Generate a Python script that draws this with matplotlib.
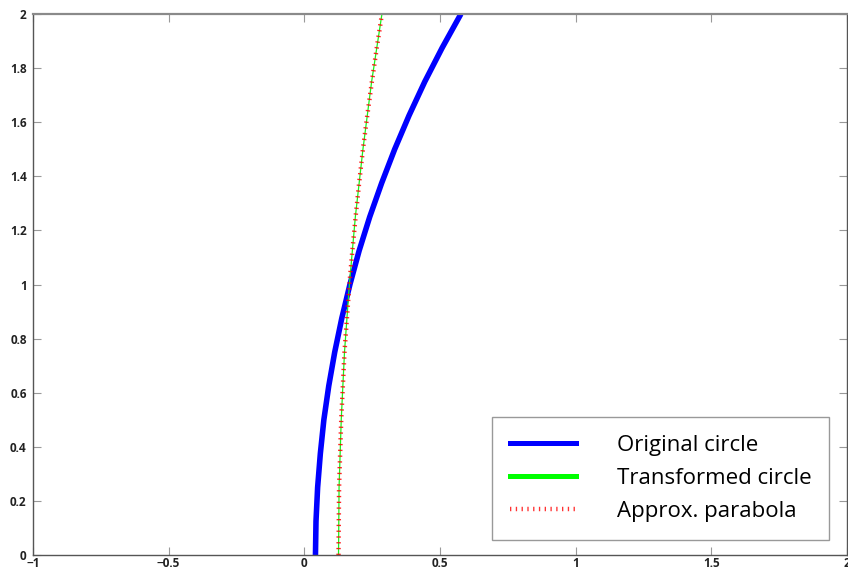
import matplotlib
matplotlib.use("Agg")
import matplotlib.pyplot as plt
from matplotlib.lines import Line2D

plt.rcParams['font.family'] = ['Open Sans', 'DejaVu Sans']

# Sample heights shared by all three curves
y_vals = [0.0, 0.125, 0.25, 0.375, 0.5, 0.625, 0.75, 0.875, 1.0,
          1.125, 1.25, 1.375, 1.5, 1.625, 1.75, 1.875, 2.0]

# Original circle
x_original = [0.041, 0.043, 0.049, 0.059, 0.072, 0.090, 0.112, 0.138, 0.168,
              0.202, 0.241, 0.285, 0.333, 0.386, 0.444, 0.508, 0.577]

# Transformed circle
x_transformed = [0.126, 0.127, 0.128, 0.132, 0.136, 0.142, 0.148, 0.157, 0.166,
                 0.177, 0.188, 0.202, 0.216, 0.232, 0.248, 0.267, 0.286]

# Approximating parabola
x_parabola = [0.126, 0.127, 0.128, 0.132, 0.136, 0.142, 0.148, 0.157, 0.166,
              0.177, 0.189, 0.202, 0.216, 0.232, 0.249, 0.267, 0.286]

labels = ["Original circle", "Transformed circle", "Approx. parabola"]
x_ticks = [-1, -0.5, 0, 0.5, 1, 1.5, 2]
x_ticklabels = ["\u22121", "\u22120.5", "0", "0.5", "1", "1.5", "2"]
y_ticks = [0, 0.2, 0.4, 0.6, 0.8, 1.0, 1.2, 1.4, 1.6, 1.8, 2.0]
y_ticklabels = ["0", "0.2", "0.4", "0.6", "0.8", "1", "1.2", "1.4", "1.6", "1.8", "2"]

fig = plt.figure(figsize=(8.48, 5.71), dpi=100)
ax = fig.add_axes([33 / 848, 1 - 555 / 571, (847 - 33) / 848, (555 - 14) / 571])

ax.plot(x_original, y_vals, color=(0, 0, 1), lw=4.0, solid_capstyle='butt')
ax.plot(x_transformed, y_vals, color=(0.1, 0.95, 0.1), lw=0.9)
red, = ax.plot(x_parabola, y_vals, color=(1, 0, 0), lw=3.2, alpha=0.85)
red.set_dashes((0.3, 1.0))

ax.set_xlim(-1, 2)
ax.set_ylim(0, 2)
ax.set_xticks(x_ticks)
ax.set_xticklabels(x_ticklabels)
ax.set_yticks(y_ticks)
ax.set_yticklabels(y_ticklabels)

for s in ax.spines.values():
    s.set_color('#555555')
    s.set_linewidth(1.0)
ax.spines['top'].set_color('#8a8a8a')
ax.spines['top'].set_linewidth(1.6)

ax.tick_params(axis='both', direction='in', length=5.5, width=0.8, color='#999999',
               top=True, right=True, labelsize=8.5, labelcolor='#222222')
ax.tick_params(axis='x', pad=1.5)
ax.tick_params(axis='y', pad=4.5)
for t in ax.get_xticklabels() + ax.get_yticklabels():
    t.set_fontweight('bold')

handles = [
    Line2D([], [], color=(0, 0, 1), lw=3.6),
    Line2D([], [], color=(0, 1, 0), lw=3.6),
    Line2D([], [], color=(1, 0.2, 0.2), lw=3.2, dashes=(0.3, 1.0)),
]
leg = fig.legend(handles, labels, loc='lower right',
                 bbox_to_anchor=(829 / 848, 1 - 540 / 571),
                 bbox_transform=fig.transFigure, borderaxespad=0,
                 fontsize=16, handlelength=2.97, handletextpad=1.84,
                 labelspacing=0.55, borderpad=0.8, fancybox=False,
                 framealpha=1.0)
leg.get_frame().set_edgecolor('#999999')
leg.get_frame().set_linewidth(1.0)

fig.savefig("out.png", dpi=100)
